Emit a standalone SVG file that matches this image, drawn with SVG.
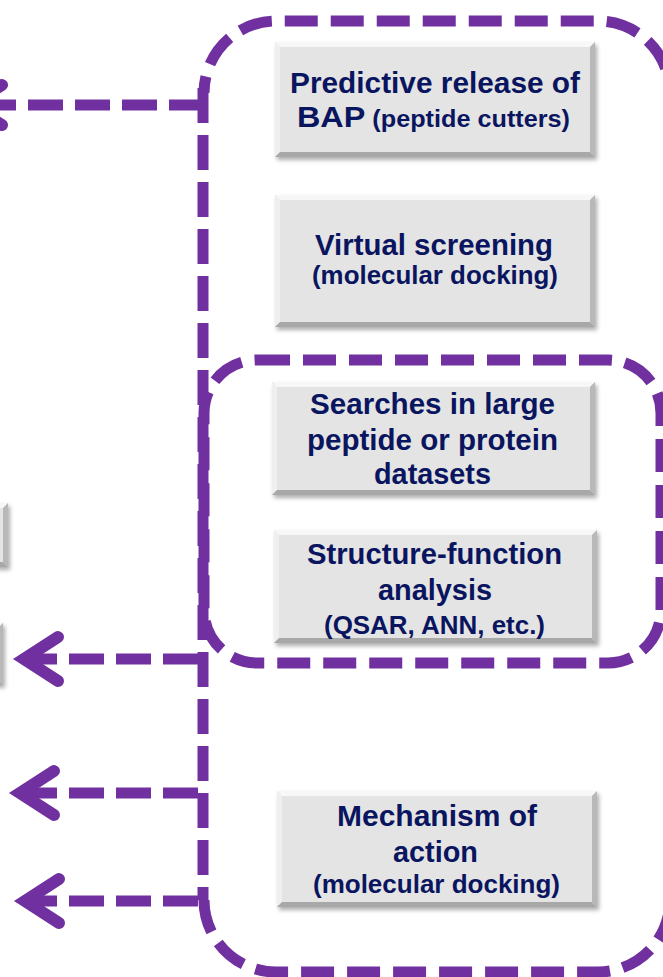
<svg xmlns="http://www.w3.org/2000/svg" width="663" height="977" viewBox="0 0 663 977">
<defs>
<filter id="blur" x="-10%" y="-20%" width="120%" height="140%"><feGaussianBlur stdDeviation="2"/></filter>
</defs>
<style>
.sh{fill:#4a4a4a;opacity:.45;filter:url(#blur)}
.face{fill:#e4e4e4}
.bt{fill:#f7f7f7}
.bl{fill:#efefef}
.br{fill:#b8b8b8}
.bb{fill:#a8a8a8}
.t{font-family:"Liberation Sans",Arial,sans-serif;font-weight:bold;fill:#0a1560;text-anchor:middle}
.big{font-size:29.5px}
.sm{font-size:25px}
.xs{font-size:23px}
.dash{fill:none;stroke:#7030a0;stroke-width:11;stroke-dasharray:35 12}
.frame{fill:none;stroke:#7030a0;stroke-width:11;stroke-dasharray:33 13}
.head{fill:none;stroke:#7030a0;stroke-width:12;stroke-linecap:round;stroke-linejoin:miter}
</style>
<rect width="663" height="977" fill="#ffffff"/>

<g id="outer-frame">
<path class="frame" d="M204,900 A72,72 0 0 0 276,972 H598 A72,72 0 0 0 670,900 V93 A72,72 0 0 0 598,21 H276 A72,72 0 0 0 204,93"/>
</g>
<g id="inner-frame">
<rect class="frame" x="204" y="360" width="457" height="303" rx="53" ry="53"/>
</g>

<g id="connectors">
<line class="dash" x1="203" y1="88" x2="203" y2="900"/>
<g id="arrow-top">
<line class="dash" x1="204" y1="105" x2="-40" y2="105"/>
<polyline class="head" points="2,85 -30,105 2,125"/>
</g>
<g id="arrow-2">
<line class="dash" x1="198" y1="659" x2="26" y2="659"/>
<polyline class="head" points="58,637 24,659 58,681"/>
</g>
<g id="arrow-3">
<line class="dash" x1="198" y1="793" x2="22" y2="793"/>
<polyline class="head" points="54,771 20,793 54,815"/>
</g>
<g id="arrow-4">
<line class="dash" x1="198" y1="901" x2="27" y2="901"/>
<polyline class="head" points="59,879 25,901 59,923"/>
</g>
</g>

<g id="left-box-a">
<rect class="sh" x="-98" y="506" width="108" height="64"/>
<rect class="face" x="-100" y="503" width="108" height="64"/>
<polygon class="bt" points="-100,503 8,503 3,508 -95,508"/>
<polygon class="br" points="8,503 8,567 3,562 3,508"/>
<polygon class="bb" points="-100,567 8,567 3,562 -95,562"/>
</g>
<g id="left-box-b">
<rect class="sh" x="-98" y="626" width="103" height="62"/>
<rect class="face" x="-100" y="623" width="103" height="62"/>
<polygon class="bt" points="-100,623 3,623 -2,628 -95,628"/>
<polygon class="br" points="3,623 3,685 -2,680 -2,628"/>
<polygon class="bb" points="-100,685 3,685 -2,680 -95,680"/>
</g>

<g id="box-predictive">
<rect class="sh" x="277" y="45" width="320" height="115"/>
<rect class="face" x="275" y="42" width="320" height="115"/>
<polygon class="bt" points="275,42 595,42 590,47 280,47"/>
<polygon class="bl" points="275,42 280,47 280,152 275,157"/>
<polygon class="br" points="595,42 595,157 590,152 590,47"/>
<polygon class="bb" points="275,157 595,157 590,152 280,152"/>
<text class="t big" x="435" y="93" textLength="290" lengthAdjust="spacingAndGlyphs">Predictive release of</text>
<text class="t" x="433.5" y="127" textLength="273" lengthAdjust="spacingAndGlyphs"><tspan class="big">BAP</tspan><tspan class="xs"> (peptide cutters)</tspan></text>
</g>

<g id="box-virtual">
<rect class="sh" x="277" y="198" width="320" height="132"/>
<rect class="face" x="275" y="195" width="320" height="132"/>
<polygon class="bt" points="275,195 595,195 590,200 280,200"/>
<polygon class="bl" points="275,195 280,200 280,322 275,327"/>
<polygon class="br" points="595,195 595,327 590,322 590,200"/>
<polygon class="bb" points="275,327 595,327 590,322 280,322"/>
<text class="t big" x="434" y="255" textLength="238" lengthAdjust="spacingAndGlyphs">Virtual screening</text>
<text class="t sm" x="435" y="284" textLength="246" lengthAdjust="spacingAndGlyphs">(molecular docking)</text>
</g>

<g id="box-searches">
<rect class="sh" x="274" y="385" width="323" height="113"/>
<rect class="face" x="272" y="382" width="323" height="113"/>
<polygon class="bt" points="272,382 595,382 590,387 277,387"/>
<polygon class="bl" points="272,382 277,387 277,490 272,495"/>
<polygon class="br" points="595,382 595,495 590,490 590,387"/>
<polygon class="bb" points="272,495 595,495 590,490 277,490"/>
<text class="t big" x="432.5" y="414" textLength="245" lengthAdjust="spacingAndGlyphs">Searches in large</text>
<text class="t big" x="432.5" y="450" textLength="251" lengthAdjust="spacingAndGlyphs">peptide or protein</text>
<text class="t big" x="432.5" y="484" textLength="117" lengthAdjust="spacingAndGlyphs">datasets</text>
</g>

<g id="box-structure">
<rect class="sh" x="276" y="533" width="323" height="113"/>
<rect class="face" x="274" y="530" width="323" height="113"/>
<polygon class="bt" points="274,530 597,530 592,535 279,535"/>
<polygon class="bl" points="274,530 279,535 279,638 274,643"/>
<polygon class="br" points="597,530 597,643 592,638 592,535"/>
<polygon class="bb" points="274,643 597,643 592,638 279,638"/>
<text class="t big" x="434.5" y="564" textLength="255" lengthAdjust="spacingAndGlyphs">Structure-function</text>
<text class="t big" x="435" y="600" textLength="114" lengthAdjust="spacingAndGlyphs">analysis</text>
<text class="t sm" x="434.5" y="634" textLength="221" lengthAdjust="spacingAndGlyphs">(QSAR, ANN, etc.)</text>
</g>

<g id="box-mechanism">
<rect class="sh" x="279" y="794" width="320" height="116"/>
<rect class="face" x="277" y="791" width="320" height="116"/>
<polygon class="bt" points="277,791 597,791 592,796 282,796"/>
<polygon class="bl" points="277,791 282,796 282,902 277,907"/>
<polygon class="br" points="597,791 597,907 592,902 592,796"/>
<polygon class="bb" points="277,907 597,907 592,902 282,902"/>
<text class="t big" x="437" y="826" textLength="200" lengthAdjust="spacingAndGlyphs">Mechanism of</text>
<text class="t big" x="435.5" y="862" textLength="85" lengthAdjust="spacingAndGlyphs">action</text>
<text class="t sm" x="436.5" y="893" textLength="247" lengthAdjust="spacingAndGlyphs">(molecular docking)</text>
</g>
</svg>
